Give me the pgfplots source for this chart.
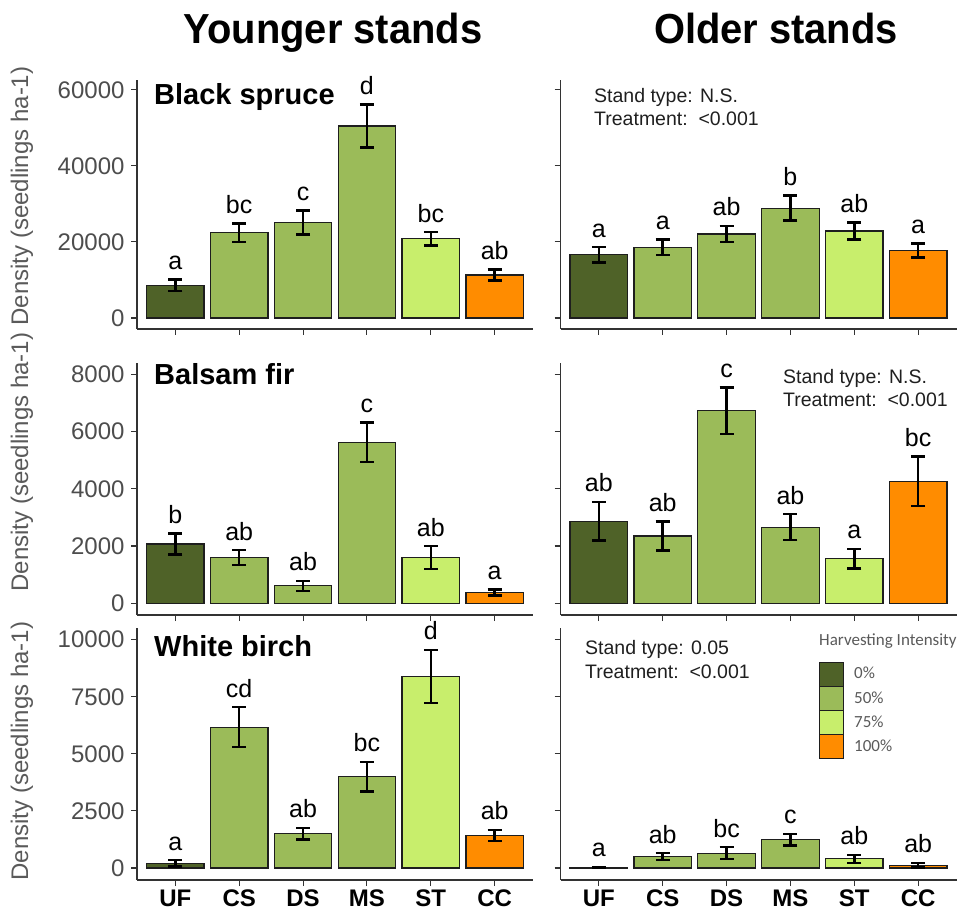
\documentclass[border=0pt]{standalone}
\usepackage{fontspec}
\setmainfont{Liberation Sans}
\newfontfamily\legfont{Carlito}
\usepackage{pgfplots}
\usepackage{pgfplotstable}
\pgfplotsset{compat=1.18}

\definecolor{cUF}{HTML}{4F6228}
\definecolor{cMid}{HTML}{9BBB59}
\definecolor{cST}{HTML}{C8EE6C}
\definecolor{cCC}{HTML}{FF8C00}
\definecolor{barline}{HTML}{1E1E1E}
\definecolor{axisline}{HTML}{333333}
\definecolor{ticktext}{HTML}{4D4D4D}
\definecolor{labtext}{HTML}{5A5A5A}

% mean density, standard error, Tukey letters
\pgfplotstableread{
x y e lab
0 8600 1500 a
1 22400 2400 bc
2 25100 3150 c
3 50500 5600 d
4 20800 1800 bc
5 11300 1400 ab
}\bsYoung
\pgfplotstableread{
x y e lab
0 16600 2050 a
1 18600 2100 a
2 22100 2150 ab
3 28900 3300 b
4 22900 2250 ab
5 17700 1850 a
}\bsOld
\pgfplotstableread{
x y e lab
0 2070 370 b
1 1600 260 ab
2 610 175 ab
3 5620 690 c
4 1600 400 ab
5 380 100 a
}\bfYoung
\pgfplotstableread{
x y e lab
0 2870 670 ab
1 2350 500 ab
2 6730 810 c
3 2660 455 ab
4 1560 340 a
5 4260 860 bc
}\bfOld
\pgfplotstableread{
x y e lab
0 200 140 a
1 6170 880 cd
2 1500 260 ab
3 4000 650 bc
4 8390 1170 d
5 1430 240 ab
}\wbYoung
\pgfplotstableread{
x y e lab
0 30 20 a
1 500 150 ab
2 650 260 bc
3 1240 255 c
4 400 175 ab
5 120 100 ab
}\wbOld

\pgfplotsset{
  panel/.style={
    scale only axis, width=396pt,
    xmin=-0.6, xmax=5.6, xtick={0,...,5}, xticklabels={},
    axis lines*=left,
    axis line style={axisline, line width=1.3pt},
    tick align=outside, major tick length=6pt,
    major tick style={axisline, line width=1.1pt},
    tick label style={font=\fontsize{24}{24}\selectfont, text=ticktext},
    yticklabel style={xshift=-3pt},
    /pgf/number format/assume math mode=true,
    /pgf/number format/1000 sep={},
    scaled y ticks=false,
    clip=false,
  },
  barstyle/.style={
    ybar, bar width=0.9, bar shift=0pt, draw=barline, line width=1.2pt,
    error bars/y dir=both, error bars/y explicit,
    error bars/error bar style={line width=2.5pt, black},
    error bars/error mark options={rotate=90, black, line width=2.5pt, mark size=7pt},
  },
}

\newcommand{\drawbars}[1]{%
  \addplot[barstyle, fill=cUF, restrict x to domain=-0.5:0.5] table[x=x, y=y, y error=e] {#1};
  \addplot[barstyle, fill=cMid, restrict x to domain=0.5:3.5] table[x=x, y=y, y error=e] {#1};
  \addplot[barstyle, fill=cST, restrict x to domain=3.5:4.5] table[x=x, y=y, y error=e] {#1};
  \addplot[barstyle, fill=cCC, restrict x to domain=4.5:5.5] table[x=x, y=y, y error=e] {#1};
  \addplot[draw=none, mark=none, nodes near coords, point meta=explicit symbolic,
    nodes near coords style={anchor=base, yshift=10pt, inner sep=0pt,
      font=\fontsize{25}{25}\selectfont, text=black}]
    table[x=x, y expr=\thisrow{y}+\thisrow{e}, meta=lab] {#1};
}

\begin{document}
\begin{tikzpicture}[x=1pt, y=1pt]
\useasboundingbox (0,0) rectangle (957,922);

% column headings
\node[anchor=base] at (333,878) {\scalebox{0.95}[1]{\fontsize{42}{42}\selectfont\bfseries Younger stands}};
\node[anchor=base] at (776,878) {\scalebox{0.95}[1]{\fontsize{42}{42}\selectfont\bfseries Older stands}};

% row 1: black spruce
\begin{axis}[panel, at={(137pt,593pt)}, anchor=south west, height=249pt,
  ymin=-2900, ymax=62600, ytick={0,20000,40000,60000}]
\drawbars{\bsYoung}
\end{axis}
\begin{axis}[panel, at={(560.5pt,593pt)}, anchor=south west, height=249pt,
  ymin=-2900, ymax=62600, ytick={0,20000,40000,60000}, yticklabels={}]
\drawbars{\bsOld}
\end{axis}

% row 2: balsam fir
\begin{axis}[panel, at={(137pt,307pt)}, anchor=south west, height=252pt,
  ymin=-408, ymax=8392, ytick={0,2000,4000,6000,8000}]
\drawbars{\bfYoung}
\end{axis}
\begin{axis}[panel, at={(560.5pt,307pt)}, anchor=south west, height=252pt,
  ymin=-408, ymax=8392, ytick={0,2000,4000,6000,8000}, yticklabels={}]
\drawbars{\bfOld}
\end{axis}

% row 3: white birch
\begin{axis}[panel, at={(137pt,42pt)}, anchor=south west, height=252pt,
  ymin=-526, ymax=10513, ytick={0,2500,5000,7500,10000},
  xticklabels={UF,CS,DS,MS,ST,CC},
  x tick label style={font=\bfseries\fontsize{24}{24}\selectfont, text=black}]
\drawbars{\wbYoung}
\end{axis}
\begin{axis}[panel, at={(560.5pt,42pt)}, anchor=south west, height=252pt,
  ymin=-526, ymax=10513, ytick={0,2500,5000,7500,10000}, yticklabels={},
  xticklabels={UF,CS,DS,MS,ST,CC},
  x tick label style={font=\bfseries\fontsize{24}{24}\selectfont, text=black}]
\drawbars{\wbOld}
\end{axis}

% y axis titles
\foreach \yc in {726,460,171}{
  \node[rotate=90, text=labtext, font=\fontsize{24}{24}\selectfont] at (22,\yc) {Density (seedlings ha-1)};
}

% species names
\begin{scope}[font=\fontsize{29}{29}\selectfont\bfseries]
\node[anchor=base west, inner sep=0pt] at (154,817) {Black spruce};
\node[anchor=base west, inner sep=0pt] at (154,537) {Balsam fir};
\node[anchor=base west, inner sep=0pt] at (154,265.3) {White birch};
\end{scope}

% ANOVA results
\begin{scope}[font=\fontsize{19.5}{19.5}\selectfont, text=black!88]
\node[anchor=base west, inner sep=0pt] at (594,819.7) {Stand type: N.S.};
\node[anchor=base west, inner sep=0pt] at (594,796.3) {Treatment:\ \ <0.001};
\node[anchor=base west, inner sep=0pt] at (783,538.7) {Stand type: N.S.};
\node[anchor=base west, inner sep=0pt] at (783,515.3) {Treatment:\ \ <0.001};
\node[anchor=base west, inner sep=0pt] at (585,267.7) {Stand type: 0.05};
\node[anchor=base west, inner sep=0pt] at (585,243.7) {Treatment:\ \ <0.001};
\end{scope}

% legend
\begin{scope}[font=\legfont\fontsize{17}{17}\selectfont, text=labtext]
\node[anchor=base west, inner sep=0pt] at (819,277) {Harvesting Intensity};
\filldraw[fill=cUF, draw=barline, line width=1pt] (819,236) rectangle (843,260);
\filldraw[fill=cMid, draw=barline, line width=1pt] (819,212) rectangle (843,236);
\filldraw[fill=cST, draw=barline, line width=1pt] (819,188) rectangle (843,212);
\filldraw[fill=cCC, draw=barline, line width=1pt] (819,164) rectangle (843,188);
\node[anchor=west, inner sep=0pt] at (854,249) {0\%};
\node[anchor=west, inner sep=0pt] at (854,224) {50\%};
\node[anchor=west, inner sep=0pt] at (854,200) {75\%};
\node[anchor=west, inner sep=0pt] at (854,176) {100\%};
\end{scope}
\end{tikzpicture}
\end{document}
